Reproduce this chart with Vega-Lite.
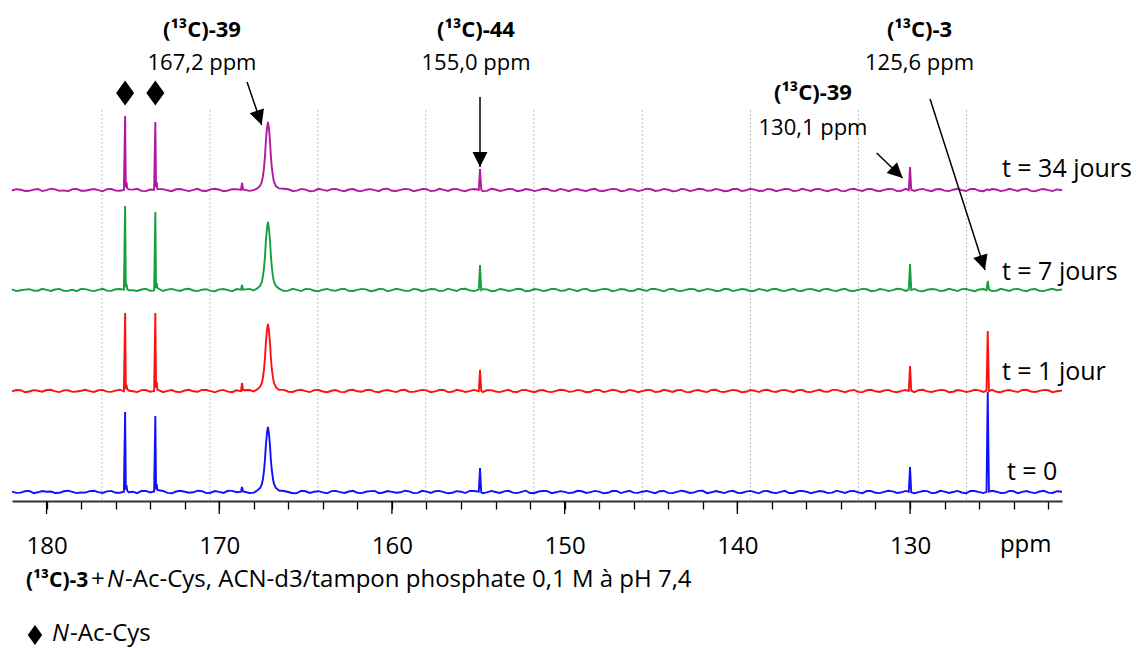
{
"$schema": "https://vega.github.io/schema/vega-lite/v6.json",
"width": 1050, "height": 501,
"autosize": {"type": "none"},
"padding": {"left": 12, "top": 0, "right": 74, "bottom": 147},
"background": "white",
"config": {"view": {"stroke": null}, "font": "Open Sans", "text": {"font": "Open Sans", "color": "#000"}},
"datasets": {
"spec": [
{"p":182.0,"t0":0.4,"t1":-0.3,"t7":0.6,"t34":-0.5},
{"p":181.75,"t0":-0.9,"t1":1.0,"t7":-1.1,"t34":0.8},
{"p":181.5,"t0":-0.6,"t1":0.8,"t7":-0.2,"t34":0.3},
{"p":181.25,"t0":0.8,"t1":-1.2,"t7":0.4,"t34":-1.0},
{"p":181.0,"t0":1.1,"t1":-0.5,"t7":0.9,"t34":-0.8},
{"p":180.75,"t0":-1.2,"t1":0.9,"t7":-0.6,"t34":0.4},
{"p":180.5,"t0":-0.3,"t1":0.2,"t7":-0.7,"t34":1.0},
{"p":180.25,"t0":1.0,"t1":-0.7,"t7":1.2,"t34":-1.1},
{"p":180.0,"t0":0.2,"t1":1.0,"t7":0.1,"t34":-0.2},
{"p":179.75,"t0":0.5,"t1":1.2,"t7":-1.0,"t34":1.3},
{"p":179.5,"t0":-1.0,"t1":-0.4,"t7":0.5,"t34":0.6},
{"p":179.25,"t0":-0.8,"t1":-1.1,"t7":1.1,"t34":-0.9},
{"p":179.0,"t0":0.7,"t1":0.6,"t7":-0.9,"t34":-0.4},
{"p":178.75,"t0":1.3,"t1":0.7,"t7":-0.7,"t34":-1.2},
{"p":178.5,"t0":0.1,"t1":-0.9,"t7":0.3,"t34":0.9},
{"p":178.25,"t0":-1.1,"t1":-0.5,"t7":-1.2,"t34":1.1},
{"p":178.0,"t0":-0.5,"t1":0.3,"t7":1.1,"t34":-0.7},
{"p":177.75,"t0":-0.6,"t1":1.2,"t7":0.9,"t34":-0.8},
{"p":177.5,"t0":0.9,"t1":-0.1,"t7":-0.4,"t34":0.2},
{"p":177.25,"t0":1.2,"t1":-1.0,"t7":-1.1,"t34":1.0},
{"p":177.0,"t0":-0.2,"t1":0.7,"t7":0.2,"t34":-0.1},
{"p":176.75,"t0":-1.0,"t1":1.1,"t7":1.2,"t34":-1.3},
{"p":176.5,"t0":0.6,"t1":-0.6,"t7":-0.6,"t34":0.8},
{"p":176.25,"t0":1.1,"t1":-0.9,"t7":-0.9,"t34":1.1},
{"p":176.0,"t0":-0.8,"t1":0.4,"t7":0.7,"t34":-0.6},
{"p":175.75,"t0":-0.7,"t1":1.3,"t7":1.0,"t34":-0.7},
{"p":175.52,"t0":0.2,"t1":-0.3,"t7":0.3,"t34":0.1},
{"p":175.45,"t0":80,"t1":78,"t7":84,"t34":74},
{"p":175.41,"t0":2.5,"t1":2,"t7":3,"t34":2.5},
{"p":175.37,"t0":7,"t1":6,"t7":6,"t34":8},
{"p":175.33,"t0":1.5,"t1":2,"t7":1,"t34":2},
{"p":175.25,"t0":-0.3,"t1":0.5,"t7":-0.2,"t34":0.6},
{"p":175.0,"t0":0.3,"t1":-0.2,"t7":-0.3,"t34":0.4},
{"p":174.75,"t0":-1.2,"t1":-1.1,"t7":-1.0,"t34":1.2},
{"p":174.5,"t0":1.0,"t1":0.9,"t7":0.5,"t34":-0.9},
{"p":174.25,"t0":1.1,"t1":1.0,"t7":1.2,"t34":-1.1},
{"p":174.0,"t0":-0.4,"t1":-0.7,"t7":-0.8,"t34":0.5},
{"p":173.77,"t0":0.5,"t1":0.1,"t7":-0.4,"t34":0.3},
{"p":173.70,"t0":76,"t1":78,"t7":78,"t34":68},
{"p":173.66,"t0":2.5,"t1":3,"t7":2,"t34":3},
{"p":173.62,"t0":8,"t1":9,"t7":7,"t34":8},
{"p":173.58,"t0":2,"t1":1.5,"t7":2,"t34":1},
{"p":173.25,"t0":1.0,"t1":-1.2,"t7":-1.0,"t34":0.9},
{"p":173.0,"t0":-0.9,"t1":0.1,"t7":0.4,"t34":-0.3},
{"p":172.75,"t0":-1.3,"t1":0.9,"t7":1.1,"t34":-1.2},
{"p":172.5,"t0":0.5,"t1":-0.8,"t7":-0.1,"t34":0.7},
{"p":172.25,"t0":1.2,"t1":-1.1,"t7":-0.9,"t34":1.0},
{"p":172.0,"t0":0.2,"t1":0.5,"t7":0.8,"t34":-0.2},
{"p":171.75,"t0":-0.8,"t1":1.2,"t7":1.2,"t34":-1.1},
{"p":171.5,"t0":-0.3,"t1":-0.3,"t7":-0.5,"t34":0.1},
{"p":171.25,"t0":1.3,"t1":-0.8,"t7":-1.1,"t34":1.2},
{"p":171.0,"t0":0.8,"t1":1.1,"t7":0.3,"t34":-0.8},
{"p":170.75,"t0":-1.1,"t1":1.0,"t7":0.8,"t34":-1.0},
{"p":170.5,"t0":-0.7,"t1":-0.2,"t7":-0.9,"t34":0.6},
{"p":170.25,"t0":0.9,"t1":-1.3,"t7":-1.2,"t34":1.3},
{"p":170.0,"t0":0.1,"t1":0.4,"t7":0.6,"t34":0.3},
{"p":169.75,"t0":-0.9,"t1":1.1,"t7":1.0,"t34":-1.2},
{"p":169.5,"t0":1.2,"t1":-0.6,"t7":-0.2,"t34":-0.5},
{"p":169.25,"t0":1.1,"t1":-1.2,"t7":-1.3,"t34":0.8},
{"p":169.0,"t0":-0.2,"t1":0.8,"t7":0.9,"t34":0.9},
{"p":168.74,"t0":0.3,"t1":-0.2,"t7":0.4,"t34":0.1},
{"p":168.68,"t0":5,"t1":8,"t7":5,"t34":7},
{"p":168.62,"t0":0.5,"t1":0.8,"t7":0.2,"t34":0.6},
{"p":168.25,"t0":-1.0,"t1":1.0,"t7":1.1,"t34":-0.9},
{"p":168.0,"t0":-0.6,"t1":-0.4,"t7":-0.4,"t34":-0.2},
{"p":167.82,"t0":1.3,"t1":1.3,"t7":1.4,"t34":1.4},
{"p":167.64,"t0":3.9,"t1":4.0,"t7":4.1,"t34":4.1},
{"p":167.53,"t0":7.8,"t1":8.0,"t7":8.2,"t34":8.2},
{"p":167.47,"t0":13,"t1":13.4,"t7":13.6,"t34":13.6},
{"p":167.41,"t0":20.8,"t1":21.4,"t7":21.8,"t34":21.8},
{"p":167.35,"t0":32.5,"t1":33.5,"t7":34,"t34":34},
{"p":167.30,"t0":46.8,"t1":48.2,"t7":49,"t34":49},
{"p":167.24,"t0":58.5,"t1":60.3,"t7":61.2,"t34":61.2},
{"p":167.18,"t0":65,"t1":67,"t7":68,"t34":68},
{"p":167.12,"t0":58,"t1":60,"t7":61,"t34":61.5},
{"p":167.06,"t0":46,"t1":48,"t7":49.5,"t34":48.5},
{"p":167.01,"t0":32,"t1":33,"t7":34.5,"t34":33.5},
{"p":166.95,"t0":21,"t1":21,"t7":22,"t34":21.5},
{"p":166.89,"t0":13.2,"t1":13.6,"t7":13.3,"t34":13.8},
{"p":166.83,"t0":8,"t1":8.2,"t7":8,"t34":8.4},
{"p":166.72,"t0":4.1,"t1":3.8,"t7":4.2,"t34":3.9},
{"p":166.54,"t0":1.5,"t1":1.2,"t7":1.3,"t34":1.6},
{"p":166.25,"t0":1.0,"t1":1.1,"t7":-1.0,"t34":1.2},
{"p":166.0,"t0":0.0,"t1":-0.7,"t7":-0.6,"t34":0.7},
{"p":165.75,"t0":-1.2,"t1":-1.0,"t7":1.2,"t34":-1.0},
{"p":165.5,"t0":-1.1,"t1":0.6,"t7":0.2,"t34":-0.6},
{"p":165.25,"t0":1.3,"t1":1.2,"t7":-1.1,"t34":1.1},
{"p":165.0,"t0":0.7,"t1":-0.1,"t7":1.0,"t34":0.4},
{"p":164.75,"t0":-1.0,"t1":-1.1,"t7":0.9,"t34":-1.3},
{"p":164.5,"t0":0.3,"t1":0.9,"t7":-0.7,"t34":-0.9},
{"p":164.25,"t0":0.8,"t1":1.0,"t7":-1.2,"t34":1.2},
{"p":164.0,"t0":-0.4,"t1":-0.5,"t7":0.3,"t34":0.1},
{"p":163.75,"t0":-1.3,"t1":-1.2,"t7":1.1,"t34":-0.8},
{"p":163.5,"t0":0.9,"t1":0.2,"t7":-0.3,"t34":0.8},
{"p":163.25,"t0":1.1,"t1":0.9,"t7":-0.9,"t34":1.1},
{"p":163.0,"t0":-0.1,"t1":-0.9,"t7":0.7,"t34":-0.4},
{"p":162.75,"t0":-0.9,"t1":-1.1,"t7":1.3,"t34":-1.2},
{"p":162.5,"t0":0.5,"t1":0.7,"t7":-0.8,"t34":0.5},
{"p":162.25,"t0":1.2,"t1":1.2,"t7":-1.0,"t34":1.0},
{"p":162.0,"t0":-0.8,"t1":-0.3,"t7":0.1,"t34":-0.7},
{"p":161.75,"t0":-1.1,"t1":-0.8,"t7":1.1,"t34":-1.1},
{"p":161.5,"t0":0.2,"t1":1.0,"t7":0.6,"t34":0.3},
{"p":161.25,"t0":0.9,"t1":1.1,"t7":-1.2,"t34":0.9},
{"p":161.0,"t0":1.0,"t1":-0.6,"t7":-0.5,"t34":-0.1},
{"p":160.75,"t0":-1.2,"t1":-1.2,"t7":1.0,"t34":-1.2},
{"p":160.5,"t0":-0.5,"t1":0.4,"t7":0.9,"t34":1.0},
{"p":160.25,"t0":1.0,"t1":1.0,"t7":-1.3,"t34":1.3},
{"p":160.0,"t0":0.1,"t1":-0.2,"t7":-0.1,"t34":-0.8},
{"p":159.75,"t0":-0.8,"t1":-1.1,"t7":1.2,"t34":-1.0},
{"p":159.5,"t0":-0.3,"t1":0.8,"t7":0.4,"t34":0.2},
{"p":159.25,"t0":1.3,"t1":1.2,"t7":-0.9,"t34":1.1},
{"p":159.0,"t0":0.6,"t1":-0.7,"t7":-0.9,"t34":0.6},
{"p":158.75,"t0":-1.1,"t1":-0.9,"t7":1.1,"t34":-1.2},
{"p":158.5,"t0":-0.9,"t1":0.1,"t7":0.5,"t34":-0.3},
{"p":158.25,"t0":1.2,"t1":1.1,"t7":-1.2,"t34":1.0},
{"p":158.0,"t0":0.4,"t1":0.6,"t7":-0.2,"t34":0.9},
{"p":157.75,"t0":-1.0,"t1":-1.2,"t7":1.0,"t34":-1.1},
{"p":157.5,"t0":0.8,"t1":-0.4,"t7":0.8,"t34":-0.6},
{"p":157.25,"t0":1.1,"t1":1.0,"t7":-1.1,"t34":1.2},
{"p":157.0,"t0":-0.2,"t1":1.1,"t7":-0.6,"t34":0.1},
{"p":156.75,"t0":-1.3,"t1":-1.1,"t7":1.3,"t34":-0.9},
{"p":156.5,"t0":-0.7,"t1":-0.8,"t7":0.2,"t34":0.7},
{"p":156.25,"t0":0.9,"t1":1.2,"t7":-1.0,"t34":1.1},
{"p":156.0,"t0":0.3,"t1":0.3,"t7":1.0,"t34":-0.4},
{"p":155.75,"t0":-1.1,"t1":-1.0,"t7":1.2,"t34":-1.2},
{"p":155.5,"t0":1.1,"t1":-0.1,"t7":-0.4,"t34":0.4},
{"p":155.25,"t0":1.0,"t1":1.1,"t7":-1.1,"t34":1.0},
{"p":154.97,"t0":0.3,"t1":-0.2,"t7":0.4,"t34":0.2},
{"p":154.90,"t0":24,"t1":21,"t7":25,"t34":21},
{"p":154.83,"t0":-0.2,"t1":0.3,"t7":-0.1,"t34":0.4},
{"p":154.75,"t0":-1.2,"t1":-1.2,"t7":0.9,"t34":-1.1},
{"p":154.5,"t0":-0.4,"t1":0.7,"t7":0.6,"t34":-0.9},
{"p":154.25,"t0":1.1,"t1":0.9,"t7":-1.2,"t34":1.3},
{"p":154.0,"t0":0.0,"t1":-0.5,"t7":-0.8,"t34":0.5},
{"p":153.75,"t0":-0.9,"t1":-1.1,"t7":1.1,"t34":-1.0},
{"p":153.5,"t0":0.6,"t1":0.2,"t7":0.3,"t34":-0.2},
{"p":153.25,"t0":1.2,"t1":1.2,"t7":-1.0,"t34":1.1},
{"p":153.0,"t0":-0.6,"t1":-0.9,"t7":-0.1,"t34":0.8},
{"p":152.75,"t0":-1.1,"t1":-1.0,"t7":1.2,"t34":-1.2},
{"p":152.5,"t0":0.2,"t1":0.9,"t7":0.7,"t34":-0.5},
{"p":152.25,"t0":1.3,"t1":1.1,"t7":-1.3,"t34":1.0},
{"p":152.0,"t0":-1.0,"t1":-0.3,"t7":-0.7,"t34":0.3},
{"p":151.75,"t0":-1.0,"t1":-1.2,"t7":1.0,"t34":-1.1},
{"p":151.5,"t0":0.5,"t1":0.5,"t7":0.4,"t34":-0.1},
{"p":151.25,"t0":1.1,"t1":1.0,"t7":-1.1,"t34":1.2},
{"p":151.0,"t0":0.9,"t1":-0.6,"t7":-0.3,"t34":1.0},
{"p":150.75,"t0":-1.2,"t1":-1.1,"t7":1.2,"t34":-0.9},
{"p":150.5,"t0":-0.3,"t1":0.1,"t7":0.9,"t34":-0.7},
{"p":150.25,"t0":0.9,"t1":1.2,"t7":-0.9,"t34":1.1},
{"p":150.0,"t0":0.1,"t1":0.8,"t7":-0.5,"t34":0.2},
{"p":149.75,"t0":-1.1,"t1":-0.9,"t7":1.1,"t34":-1.2},
{"p":149.5,"t0":-0.5,"t1":-0.4,"t7":0.1,"t34":0.6},
{"p":149.25,"t0":1.2,"t1":1.1,"t7":-1.2,"t34":1.0},
{"p":149.0,"t0":0.7,"t1":0.4,"t7":0.6,"t34":-0.3},
{"p":148.75,"t0":-1.0,"t1":-1.2,"t7":1.3,"t34":-1.1},
{"p":148.5,"t0":-0.1,"t1":-0.8,"t7":-0.9,"t34":0.5},
{"p":148.25,"t0":1.1,"t1":1.0,"t7":-1.0,"t34":1.2},
{"p":148.0,"t0":0.4,"t1":1.0,"t7":0.2,"t34":-0.8},
{"p":147.75,"t0":-1.3,"t1":-1.1,"t7":1.1,"t34":-1.0},
{"p":147.5,"t0":-0.8,"t1":-0.2,"t7":0.8,"t34":0.1},
{"p":147.25,"t0":1.0,"t1":1.2,"t7":-1.2,"t34":1.1},
{"p":147.0,"t0":1.0,"t1":0.6,"t7":-0.4,"t34":0.9},
{"p":146.75,"t0":-1.1,"t1":-1.0,"t7":1.0,"t34":-1.2},
{"p":146.5,"t0":0.2,"t1":-0.7,"t7":0.5,"t34":-0.6},
{"p":146.25,"t0":1.2,"t1":1.1,"t7":-1.1,"t34":1.0},
{"p":146.0,"t0":-0.6,"t1":0.3,"t7":-0.8,"t34":0.4},
{"p":145.75,"t0":-0.9,"t1":-1.2,"t7":1.2,"t34":-1.1},
{"p":145.5,"t0":0.3,"t1":-0.1,"t7":0.3,"t34":-0.2},
{"p":145.25,"t0":1.1,"t1":1.0,"t7":-1.0,"t34":1.3},
{"p":145.0,"t0":-0.2,"t1":0.9,"t7":1.0,"t34":0.7},
{"p":144.75,"t0":-1.2,"t1":-1.1,"t7":1.1,"t34":-1.0},
{"p":144.5,"t0":0.8,"t1":-0.5,"t7":-0.2,"t34":-0.4},
{"p":144.25,"t0":1.0,"t1":1.2,"t7":-1.3,"t34":1.1},
{"p":144.0,"t0":-0.9,"t1":0.2,"t7":0.6,"t34":0.3},
{"p":143.75,"t0":-1.1,"t1":-0.9,"t7":1.2,"t34":-1.2},
{"p":143.5,"t0":0.1,"t1":0.7,"t7":-0.6,"t34":-0.9},
{"p":143.25,"t0":1.3,"t1":1.1,"t7":-1.1,"t34":1.0},
{"p":143.0,"t0":0.5,"t1":-0.9,"t7":0.1,"t34":0.6},
{"p":142.75,"t0":-1.0,"t1":-1.2,"t7":1.0,"t34":-1.1},
{"p":142.5,"t0":-0.4,"t1":0.4,"t7":0.9,"t34":-0.1},
{"p":142.25,"t0":1.1,"t1":1.0,"t7":-1.2,"t34":1.2},
{"p":142.0,"t0":1.2,"t1":-0.3,"t7":-0.3,"t34":0.8},
{"p":141.75,"t0":-1.2,"t1":-1.1,"t7":1.1,"t34":-0.9},
{"p":141.5,"t0":-0.3,"t1":1.0,"t7":0.4,"t34":-0.5},
{"p":141.25,"t0":1.0,"t1":1.2,"t7":-1.0,"t34":1.1},
{"p":141.0,"t0":0.0,"t1":-0.6,"t7":-0.9,"t34":0.2},
{"p":140.75,"t0":-1.1,"t1":-1.0,"t7":1.2,"t34":-1.2},
{"p":140.5,"t0":0.6,"t1":0.1,"t7":0.7,"t34":-0.7},
{"p":140.25,"t0":1.2,"t1":1.1,"t7":-1.1,"t34":1.0},
{"p":140.0,"t0":-0.7,"t1":0.5,"t7":-0.1,"t34":1.0},
{"p":139.75,"t0":-1.0,"t1":-1.2,"t7":1.0,"t34":-1.1},
{"p":139.5,"t0":0.4,"t1":-0.8,"t7":0.5,"t34":-0.3},
{"p":139.25,"t0":1.1,"t1":1.0,"t7":-1.2,"t34":1.2},
{"p":139.0,"t0":-0.1,"t1":0.3,"t7":-0.7,"t34":0.4},
{"p":138.75,"t0":-1.3,"t1":-1.1,"t7":1.1,"t34":-1.0},
{"p":138.5,"t0":0.9,"t1":0.8,"t7":0.2,"t34":-0.8},
{"p":138.25,"t0":1.0,"t1":1.2,"t7":-1.0,"t34":1.1},
{"p":138.0,"t0":-0.5,"t1":-0.4,"t7":0.8,"t34":0.5},
{"p":137.75,"t0":-1.1,"t1":-1.0,"t7":1.2,"t34":-1.2},
{"p":137.5,"t0":0.2,"t1":0.6,"t7":-0.5,"t34":-0.2},
{"p":137.25,"t0":1.2,"t1":1.1,"t7":-1.1,"t34":1.0},
{"p":137.0,"t0":-1.0,"t1":-0.2,"t7":0.3,"t34":0.9},
{"p":136.75,"t0":-1.0,"t1":-1.2,"t7":1.3,"t34":-1.1},
{"p":136.5,"t0":0.7,"t1":0.9,"t7":-0.9,"t34":-0.6},
{"p":136.25,"t0":1.1,"t1":1.0,"t7":-1.0,"t34":1.2},
{"p":136.0,"t0":0.3,"t1":-0.7,"t7":0.6,"t34":0.1},
{"p":135.75,"t0":-1.2,"t1":-1.1,"t7":1.1,"t34":-1.0},
{"p":135.5,"t0":-0.2,"t1":0.2,"t7":0.0,"t34":0.7},
{"p":135.25,"t0":1.0,"t1":1.2,"t7":-1.2,"t34":1.1},
{"p":135.0,"t0":0.5,"t1":-0.5,"t7":0.9,"t34":-0.4},
{"p":134.75,"t0":-1.1,"t1":-0.9,"t7":1.0,"t34":-1.2},
{"p":134.5,"t0":-0.6,"t1":1.1,"t7":-0.4,"t34":0.3},
{"p":134.25,"t0":1.3,"t1":1.1,"t7":-1.1,"t34":1.0},
{"p":134.0,"t0":0.1,"t1":-0.1,"t7":0.5,"t34":-0.9},
{"p":133.75,"t0":-1.0,"t1":-1.2,"t7":1.2,"t34":-1.1},
{"p":133.5,"t0":0.8,"t1":0.4,"t7":-0.8,"t34":0.6},
{"p":133.25,"t0":1.1,"t1":1.0,"t7":-1.0,"t34":1.2},
{"p":133.0,"t0":-0.4,"t1":-0.9,"t7":0.2,"t34":-0.1},
{"p":132.75,"t0":-1.2,"t1":-1.1,"t7":1.1,"t34":-1.0},
{"p":132.5,"t0":1.0,"t1":0.7,"t7":0.7,"t34":0.8},
{"p":132.25,"t0":1.0,"t1":1.2,"t7":-1.2,"t34":1.1},
{"p":132.0,"t0":-0.8,"t1":-0.3,"t7":-0.6,"t34":-0.5},
{"p":131.75,"t0":-1.1,"t1":-1.0,"t7":1.0,"t34":-1.2},
{"p":131.5,"t0":0.2,"t1":0.5,"t7":0.4,"t34":0.2},
{"p":131.25,"t0":1.2,"t1":1.1,"t7":-1.1,"t34":1.0},
{"p":131.0,"t0":0.6,"t1":-0.6,"t7":-0.2,"t34":0.9},
{"p":130.75,"t0":-1.0,"t1":-1.2,"t7":1.2,"t34":-1.1},
{"p":130.5,"t0":-0.3,"t1":0.2,"t7":0.8,"t34":-0.7},
{"p":130.25,"t0":1.1,"t1":1.0,"t7":-1.0,"t34":1.2},
{"p":130.07,"t0":0.2,"t1":0.1,"t7":0.3,"t34":-0.2},
{"p":130.00,"t0":25,"t1":25,"t7":26,"t34":23},
{"p":129.93,"t0":-0.3,"t1":0.4,"t7":0.1,"t34":0.3},
{"p":129.75,"t0":-1.2,"t1":-1.1,"t7":1.1,"t34":-1.0},
{"p":129.5,"t0":-0.1,"t1":0.8,"t7":-0.9,"t34":0.4},
{"p":129.25,"t0":1.0,"t1":1.2,"t7":-1.2,"t34":1.1},
{"p":129.0,"t0":0.9,"t1":-0.4,"t7":0.3,"t34":-0.3},
{"p":128.75,"t0":-1.1,"t1":-1.0,"t7":1.0,"t34":-1.2},
{"p":128.5,"t0":-0.7,"t1":0.1,"t7":0.6,"t34":0.7},
{"p":128.25,"t0":1.2,"t1":1.1,"t7":-1.1,"t34":1.0},
{"p":128.0,"t0":0.4,"t1":0.9,"t7":-0.5,"t34":-0.6},
{"p":127.75,"t0":-1.0,"t1":-1.2,"t7":1.2,"t34":-1.1},
{"p":127.5,"t0":0.0,"t1":-0.7,"t7":0.1,"t34":0.3},
{"p":127.25,"t0":1.1,"t1":1.0,"t7":-1.0,"t34":1.2},
{"p":127.0,"t0":-0.5,"t1":0.3,"t7":0.9,"t34":-0.2},
{"p":126.75,"t0":-1.2,"t1":-1.1,"t7":1.1,"t34":-1.0},
{"p":126.5,"t0":1.1,"t1":-0.2,"t7":-0.3,"t34":1.0},
{"p":126.25,"t0":1.0,"t1":1.2,"t7":-1.2,"t34":1.1},
{"p":126.0,"t0":-0.2,"t1":0.6,"t7":0.5,"t34":-0.8},
{"p":125.75,"t0":-1.1,"t1":-1.0,"t7":1.0,"t34":-1.2},
{"p":125.57,"t0":0.1,"t1":0.3,"t7":-0.2,"t34":0.4},
{"p":125.50,"t0":100,"t1":60,"t7":9,"t34":0.5},
{"p":125.43,"t0":0.4,"t1":-0.2,"t7":0.3,"t34":-0.1},
{"p":125.25,"t0":1.2,"t1":1.1,"t7":-1.1,"t34":1.0},
{"p":125.0,"t0":0.3,"t1":-0.8,"t7":-0.7,"t34":0.5},
{"p":124.75,"t0":-1.0,"t1":-1.2,"t7":1.2,"t34":-1.1},
{"p":124.5,"t0":-0.9,"t1":0.4,"t7":0.2,"t34":-0.4},
{"p":124.25,"t0":1.1,"t1":1.0,"t7":-1.0,"t34":1.2},
{"p":124.0,"t0":0.7,"t1":-0.1,"t7":0.8,"t34":0.2},
{"p":123.75,"t0":-1.2,"t1":-1.1,"t7":1.1,"t34":-1.0},
{"p":123.5,"t0":0.1,"t1":1.0,"t7":-0.4,"t34":0.8},
{"p":123.25,"t0":1.0,"t1":1.2,"t7":-1.2,"t34":1.1},
{"p":123.0,"t0":-0.4,"t1":-0.5,"t7":0.6,"t34":-0.9},
{"p":122.75,"t0":-1.1,"t1":-1.0,"t7":1.0,"t34":-1.2},
{"p":122.5,"t0":0.5,"t1":0.2,"t7":-0.8,"t34":0.4},
{"p":122.25,"t0":1.2,"t1":1.1,"t7":-1.1,"t34":1.0},
{"p":122.0,"t0":-0.6,"t1":0.7,"t7":0.3,"t34":-0.1},
{"p":121.75,"t0":-1.0,"t1":-1.2,"t7":1.2,"t34":-1.1},
{"p":121.5,"t0":0.8,"t1":-0.3,"t7":-0.2,"t34":0.6},
{"p":121.2,"t0":0.2,"t1":0.4,"t7":0.5,"t34":-0.3}
],
"grid": [{"p":176.79},{"p":170.54},{"p":164.29},{"p":158.04},{"p":151.78},{"p":145.5},{"p":139.24},{"p":132.99},{"p":126.73}],
"majors": [{"p":180},{"p":170},{"p":160},{"p":150},{"p":140},{"p":130}],
"nacys": [{"p":175.45},{"p":173.7}]
},
"encoding": {
  "x": {"field": "p", "type": "quantitative",
    "scale": {"domain": [182, 121.2], "nice": false, "zero": false},
    "axis": {"title": null, "grid": false,
      "values": [180,178,176,174,172,170,168,166,164,162,160,158,156,154,152,150,148,146,144,142,140,138,136,134,132,130,128,126,124,122],
      "tickSize": 8, "tickWidth": 1.3, "tickColor": "#000",
      "domainColor": "#333", "domainWidth": 2,
      "labelExpr": "datum.value % 10 === 0 ? datum.label : ''",
      "labelFont": "Open Sans", "labelFontSize": 24, "labelColor": "#000",
      "labelBaseline": "alphabetic", "labelPadding": 44, "labelOverlap": false, "labelFlush": false}}
},
"layer": [
  {"data": {"name": "grid"},
   "mark": {"type": "rule", "color": "#a8a8a8", "strokeWidth": 1, "strokeDash": [1.5, 2.5]},
   "encoding": {"y": {"datum": 80, "type": "quantitative", "scale": {"domain": [-311, 190], "nice": false, "zero": false}, "axis": null}, "y2": {"datum": -311}}},
  {"layer": [
    {"data": {"name": "spec"}, "mark": {"type": "line", "color": "#1010ff", "strokeWidth": 1.9},
     "encoding": {"y": {"field": "t0", "type": "quantitative", "scale": {"domain": [-9, 492], "nice": false, "zero": false}, "axis": null}}},
    {"data": {"name": "majors"}, "mark": {"type": "rule", "color": "#000", "strokeWidth": 1.3},
     "encoding": {"y": {"datum": -9}, "y2": {"datum": -22}}},
    {"data": {"values": [{"p": 124.39}]}, "mark": {"type": "text", "text": "t = 0", "align": "left", "baseline": "alphabetic", "fontSize": 25},
     "encoding": {"y": {"datum": 12}}},
    {"data": {"values": [{"p": 123.3}]}, "mark": {"type": "text", "text": "ppm", "align": "center", "baseline": "alphabetic", "fontSize": 24},
     "encoding": {"y": {"datum": -60}}},
    {"data": {"values": [{"p": 181.19}]}, "mark": {"type": "text", "text": "(¹³C)-3", "align": "left", "baseline": "alphabetic", "fontSize": 21, "fontWeight": "bold"},
     "encoding": {"y": {"datum": -95}}},
    {"data": {"values": [{"p": 177.43}]}, "mark": {"type": "text", "text": "+", "align": "left", "baseline": "alphabetic", "fontSize": 24},
     "encoding": {"y": {"datum": -95}}},
    {"data": {"values": [{"p": 176.5}]}, "mark": {"type": "text", "text": "N", "align": "left", "baseline": "alphabetic", "fontSize": 24, "fontStyle": "italic"},
     "encoding": {"y": {"datum": -95}}},
    {"data": {"values": [{"p": 175.45}]}, "mark": {"type": "text", "text": "-Ac-Cys, ACN-d3/tampon phosphate 0,1 M à pH 7,4", "align": "left", "baseline": "alphabetic", "fontSize": 24},
     "encoding": {"y": {"datum": -95}}},
    {"data": {"values": [{"p": 180.67}]}, "mark": {"type": "point", "shape": "M0,-1L0.72,0L0,1L-0.72,0Z", "size": 400, "filled": true, "color": "#000", "opacity": 1, "strokeWidth": 0},
     "encoding": {"y": {"datum": -143}}},
    {"data": {"values": [{"p": 179.68}]}, "mark": {"type": "text", "text": "N", "align": "left", "baseline": "alphabetic", "fontSize": 24, "fontStyle": "italic"},
     "encoding": {"y": {"datum": -149}}},
    {"data": {"values": [{"p": 178.64}]}, "mark": {"type": "text", "text": "-Ac-Cys", "align": "left", "baseline": "alphabetic", "fontSize": 24},
     "encoding": {"y": {"datum": -149}}}
  ]},
  {"layer": [
    {"data": {"name": "spec"}, "mark": {"type": "line", "color": "#ff1010", "strokeWidth": 1.9},
     "encoding": {"y": {"field": "t1", "type": "quantitative", "scale": {"domain": [-110, 391], "nice": false, "zero": false}, "axis": null}}},
    {"data": {"values": [{"p": 124.68}]}, "mark": {"type": "text", "text": "t = 1 jour", "align": "left", "baseline": "alphabetic", "fontSize": 25},
     "encoding": {"y": {"datum": 11}}}
  ]},
  {"layer": [
    {"data": {"name": "spec"}, "mark": {"type": "line", "color": "#14a03c", "strokeWidth": 1.9},
     "encoding": {"y": {"field": "t7", "type": "quantitative", "scale": {"domain": [-211, 290], "nice": false, "zero": false}, "axis": null}}},
    {"data": {"values": [{"p": 124.68}]}, "mark": {"type": "text", "text": "t = 7 jours", "align": "left", "baseline": "alphabetic", "fontSize": 25},
     "encoding": {"y": {"datum": 10}}}
  ]},
  {"layer": [
    {"data": {"name": "spec"}, "mark": {"type": "line", "color": "#b3179f", "strokeWidth": 1.9},
     "encoding": {"y": {"field": "t34", "type": "quantitative", "scale": {"domain": [-311, 190], "nice": false, "zero": false}, "axis": null}}},
    {"data": {"values": [{"p": 124.68}]}, "mark": {"type": "text", "text": "t = 34 jours", "align": "left", "baseline": "alphabetic", "fontSize": 25},
     "encoding": {"y": {"datum": 13}}},
    {"data": {"values": [{"p": 171.0}]}, "mark": {"type": "text", "text": "(¹³C)-39", "align": "center", "baseline": "alphabetic", "fontSize": 22, "fontWeight": "bold"},
     "encoding": {"y": {"datum": 153}}},
    {"data": {"values": [{"p": 171.0}]}, "mark": {"type": "text", "text": "167,2 ppm", "align": "center", "baseline": "alphabetic", "fontSize": 22},
     "encoding": {"y": {"datum": 120}}},
    {"data": {"values": [{"p": 155.13}]}, "mark": {"type": "text", "text": "(¹³C)-44", "align": "center", "baseline": "alphabetic", "fontSize": 22, "fontWeight": "bold"},
     "encoding": {"y": {"datum": 153}}},
    {"data": {"values": [{"p": 155.13}]}, "mark": {"type": "text", "text": "155,0 ppm", "align": "center", "baseline": "alphabetic", "fontSize": 22},
     "encoding": {"y": {"datum": 120}}},
    {"data": {"values": [{"p": 129.45}]}, "mark": {"type": "text", "text": "(¹³C)-3", "align": "center", "baseline": "alphabetic", "fontSize": 22, "fontWeight": "bold"},
     "encoding": {"y": {"datum": 153}}},
    {"data": {"values": [{"p": 129.45}]}, "mark": {"type": "text", "text": "125,6 ppm", "align": "center", "baseline": "alphabetic", "fontSize": 22},
     "encoding": {"y": {"datum": 120}}},
    {"data": {"values": [{"p": 135.62}]}, "mark": {"type": "text", "text": "(¹³C)-39", "align": "center", "baseline": "alphabetic", "fontSize": 22, "fontWeight": "bold"},
     "encoding": {"y": {"datum": 90}}},
    {"data": {"values": [{"p": 135.62}]}, "mark": {"type": "text", "text": "130,1 ppm", "align": "center", "baseline": "alphabetic", "fontSize": 22},
     "encoding": {"y": {"datum": 55}}},
    {"data": {"name": "nacys"}, "mark": {"type": "point", "shape": "M0,-1L0.72,0L0,1L-0.72,0Z", "size": 625, "filled": true, "color": "#000", "opacity": 1, "strokeWidth": 0},
     "encoding": {"y": {"datum": 97}}},
    {"data": {"values": [{"p": 168.39, "p2": 167.54}]}, "mark": {"type": "rule", "color": "#000", "strokeWidth": 1.5},
     "encoding": {"x2": {"field": "p2"}, "y": {"datum": 108}, "y2": {"datum": 65}}},
    {"data": {"values": [{"p": 167.54}]}, "mark": {"type": "point", "shape": "M0,0L-0.5,-1L0.5,-1Z", "size": 900, "filled": true, "color": "#000", "opacity": 1, "strokeWidth": 0, "angle": 341},
     "encoding": {"y": {"datum": 65}}},
    {"data": {"values": [{"p": 154.9}]}, "mark": {"type": "rule", "color": "#000", "strokeWidth": 1.5},
     "encoding": {"y": {"datum": 93}, "y2": {"datum": 23}}},
    {"data": {"values": [{"p": 154.9}]}, "mark": {"type": "point", "shape": "M0,0L-0.5,-1L0.5,-1Z", "size": 900, "filled": true, "color": "#000", "opacity": 1, "strokeWidth": 0},
     "encoding": {"y": {"datum": 23}}},
    {"data": {"values": [{"p": 131.93, "p2": 130.43}]}, "mark": {"type": "rule", "color": "#000", "strokeWidth": 1.5},
     "encoding": {"x2": {"field": "p2"}, "y": {"datum": 37}, "y2": {"datum": 12}}},
    {"data": {"values": [{"p": 130.43}]}, "mark": {"type": "point", "shape": "M0,0L-0.5,-1L0.5,-1Z", "size": 900, "filled": true, "color": "#000", "opacity": 1, "strokeWidth": 0, "angle": 314},
     "encoding": {"y": {"datum": 12}}},
    {"data": {"values": [{"p": 128.84, "p2": 125.66}]}, "mark": {"type": "rule", "color": "#000", "strokeWidth": 1.5},
     "encoding": {"x2": {"field": "p2"}, "y": {"datum": 91}, "y2": {"datum": -80}}},
    {"data": {"values": [{"p": 125.66}]}, "mark": {"type": "point", "shape": "M0,0L-0.5,-1L0.5,-1Z", "size": 900, "filled": true, "color": "#000", "opacity": 1, "strokeWidth": 0, "angle": 342},
     "encoding": {"y": {"datum": -80}}}
  ]}
],
"resolve": {"scale": {"y": "independent"}}
}
